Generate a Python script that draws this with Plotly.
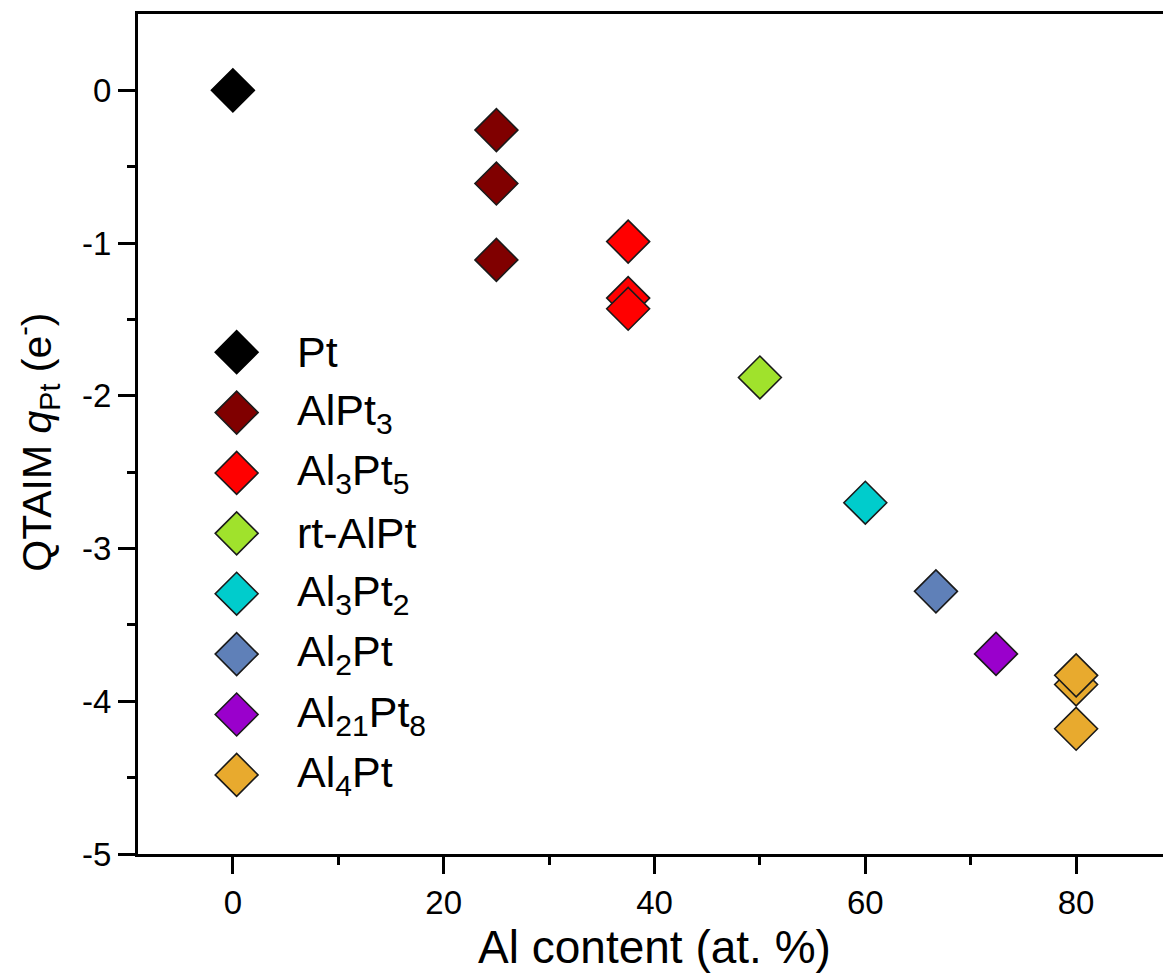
import plotly.graph_objects as go

# ---- data ----
names = ["Pt", "AlPt3", "Al3Pt5", "rt-AlPt", "Al3Pt2", "Al2Pt", "Al21Pt8", "Al4Pt"]
labels = ["Pt", "AlPt<sub>3</sub>", "Al<sub>3</sub>Pt<sub>5</sub>", "rt-AlPt",
          "Al<sub>3</sub>Pt<sub>2</sub>", "Al<sub>2</sub>Pt", "Al<sub>21</sub>Pt<sub>8</sub>",
          "Al<sub>4</sub>Pt"]
pt_x, pt_y = [0], [0.0]
alpt3_x, alpt3_y = [25, 25, 25], [-0.26, -0.61, -1.11]
al3pt5_x, al3pt5_y = [37.5, 37.5, 37.5], [-0.99, -1.36, -1.43]
rtalpt_x, rtalpt_y = [50], [-1.88]
al3pt2_x, al3pt2_y = [60], [-2.70]
al2pt_x, al2pt_y = [66.7], [-3.28]
al21pt8_x, al21pt8_y = [72.4], [-3.69]
al4pt_x, al4pt_y = [80, 80, 80], [-4.18, -3.89, -3.83]

series_x = [pt_x, alpt3_x, al3pt5_x, rtalpt_x, al3pt2_x, al2pt_x, al21pt8_x, al4pt_x]
series_y = [pt_y, alpt3_y, al3pt5_y, rtalpt_y, al3pt2_y, al2pt_y, al21pt8_y, al4pt_y]

x_ticks = [0, 20, 40, 60, 80]
x_ticktext = ["0", "20", "40", "60", "80"]
y_ticks = [0, -1, -2, -3, -4, -5]
y_ticktext = ["0", "-1", "-2", "-3", "-4", "-5"]

x_title = "Al content (at. %)"
y_title = "QTAIM <i>q</i><sub>Pt</sub> (e<sup>-</sup>)"

# ---- style ----
colors = ["#000000", "#800000", "#FF0000", "#A0E22C", "#00CCCC", "#5F80B8", "#9A00CC", "#E8AA2E"]
edge = ["#000000"] + ["#1a1a1a"] * 7
FONT = "Liberation Sans, Arial, sans-serif"
MSIZE = 33

fig = go.Figure()
for n, xs, ys, c, e in zip(names, series_x, series_y, colors, edge):
    fig.add_trace(go.Scatter(
        x=xs, y=ys, mode="markers", name=n, showlegend=False,
        marker=dict(symbol="diamond", size=MSIZE, color=c, line=dict(color=e, width=1.6)),
        cliponaxis=False,
    ))

# manual legend on hidden overlay axes (index-based vertical placement)
idx = list(range(len(names)))
fig.add_trace(go.Scatter(
    x=[0.0955] * len(names), y=idx, mode="markers", showlegend=False,
    marker=dict(symbol="diamond", size=MSIZE, color=colors, line=dict(color=edge, width=1.6)),
    xaxis="x2", yaxis="y2", cliponaxis=False, hoverinfo="skip",
))
for i, lab in zip(idx, labels):
    fig.add_annotation(x=0.152, y=i, xref="x2", yref="y2", text=lab, showarrow=False,
                       xanchor="left", yanchor="middle",
                       font=dict(family=FONT, size=43, color="black"))

# y-axis title as rotated annotation for precise placement
fig.add_annotation(x=-0.0975, y=0.49, xref="paper", yref="paper", text=y_title,
                   textangle=-90, showarrow=False, xanchor="center", yanchor="middle",
                   font=dict(family=FONT, size=41, color="black"))

axis_common = dict(
    showgrid=False, zeroline=False, showline=True, linecolor="black", linewidth=3,
    ticks="outside", ticklen=17, tickwidth=3, tickcolor="black", automargin=False,
    tickfont=dict(family=FONT, size=33, color="black"),
)

fig.update_layout(
    width=1163, height=971,
    margin=dict(l=130, r=0, t=6, b=125),
    paper_bgcolor="white", plot_bgcolor="white",
    xaxis=dict(
        range=[-9, 89], tickvals=x_ticks, ticktext=x_ticktext, mirror=True,
        minor=dict(tickvals=[10, 30, 50, 70], ticks="outside", ticklen=8, tickwidth=3, tickcolor="black"),
        title=dict(text=x_title, font=dict(family=FONT, size=46, color="black"), standoff=12),
        **axis_common,
    ),
    yaxis=dict(
        range=[-5, 0.5], tickvals=y_ticks, ticktext=y_ticktext,
        minor=dict(tickvals=[-0.5, -1.5, -2.5, -3.5, -4.5], ticks="outside", ticklen=8, tickwidth=3, tickcolor="black"),
        **axis_common,
    ),
    xaxis2=dict(overlaying="x", anchor="y2", range=[0, 1], visible=False),
    yaxis2=dict(overlaying="y", anchor="x2", range=[8.31, -5.60], visible=False),
)

fig.write_html("out.html")
